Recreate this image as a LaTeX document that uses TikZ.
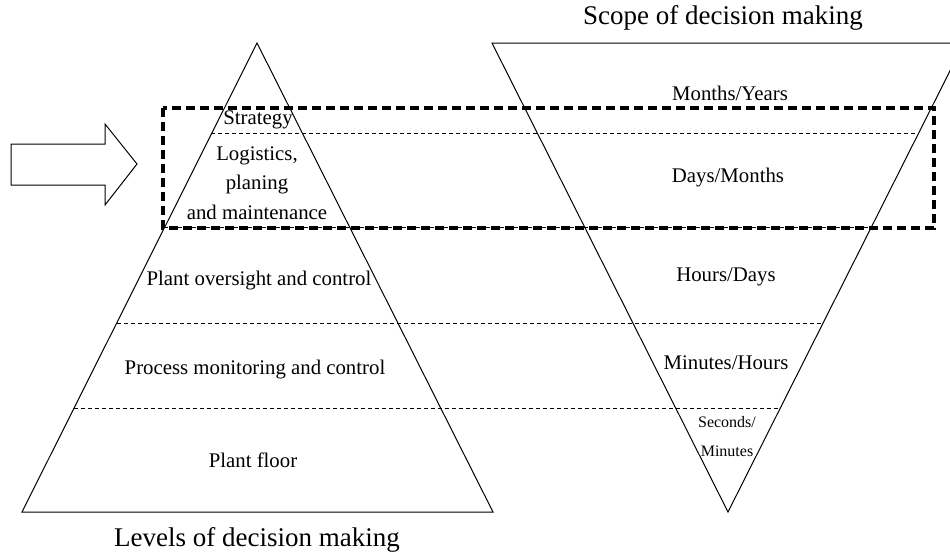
\documentclass[tikz,border=0pt]{standalone}
\usepackage{fontspec}
\setmainfont{Liberation Serif}
\usetikzlibrary{positioning,calc}

\tikzset{
	level/.style={font=\fontsize{10.4}{14.75}\selectfont, inner sep=0pt, align=center},
	small/.style={font=\fontsize{8}{14.5}\selectfont, inner sep=0pt, align=center},
	caption/.style={font=\fontsize{13.5}{16}\selectfont, inner sep=0pt},
	sep/.style={dash pattern=on 2pt off 1.5pt, line width=0.5pt},
	focus/.style={dash pattern=on 4.5pt off 2.5pt, line width=1.6pt},
}

\begin{document}
\begin{tikzpicture}[x=0.5pt,y=-0.5pt,line width=0.5pt]
		\useasboundingbox (0,0) rectangle (950,559);
		
		% levels (pyramid)
		\coordinate (ltop) at (257,43);
		\coordinate (lbl)  at (22,512);
		\coordinate (lbr)  at (493,512);
		\draw (ltop) -- (lbl) -- (lbr) -- cycle;
		
		% scope (inverted pyramid)
		\coordinate (rtl)  at (492,43);
		\coordinate (rtr)  at (964,43);
		\coordinate (rbot) at (728,512);
		\draw (rtl) -- (rtr) -- (rbot) -- cycle;
		
		\foreach \t in {0.194,0.394,0.597,0.780}
			\draw [sep] ($(ltop)!\t!(lbl)$) -- ($(rtr)!\t!(rbot)$);
		
		% focus box and arrow
		\draw [focus] (163,108) rectangle (934,228);
		\draw (11,144) -- (105,144) -- (105,124) -- (137,164) -- (105,205) -- (105,185) -- (11,185) -- cycle;
		
		\node (scope)  [caption] at (723,18)  {Scope of decision making};
		\node (levels) [caption] at (257,540) {Levels of decision making};
		
		\node (strat) [level] at (258,120) {Strategy};
		\node (logi)  [level] at (257,183) {Logistics,\\planing\\and maintenance};
		\node (over)  [level] at (259,281) {Plant oversight and control};
		\node (proc)  [level] at (255,370) {Process monitoring and control};
		\node (floor) [level] at (253,460) {Plant floor};
		
		\node (my) [level] at (730,93)  {Months/Years};
		\node (dm) [level] at (728,178) {Days/Months};
		\node (hd) [level] at (726,277) {Hours/Days};
		\node (mh) [level] at (726,363) {Minutes/Hours};
		\node (sm) [small] at (727,437) {Seconds/\\Minutes};
	\end{tikzpicture}
\end{document}
